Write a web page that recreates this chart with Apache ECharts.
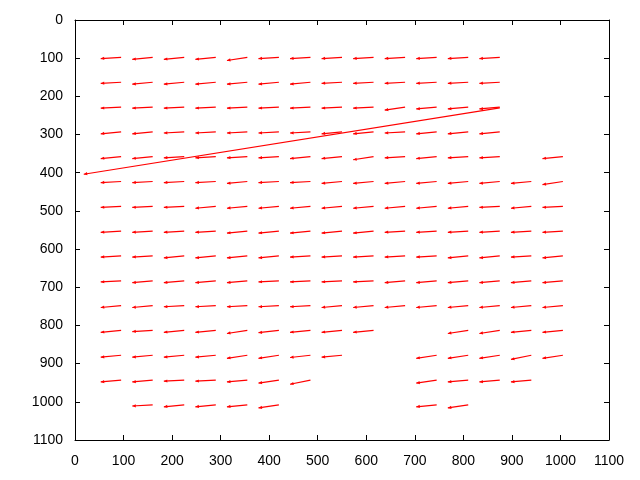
<!DOCTYPE html>
<html>
<head>
<meta charset="utf-8">
<script src="https://cdn.jsdelivr.net/npm/echarts@6/dist/echarts.min.js"></script>
<style>
html,body{margin:0;padding:0;background:#fff;}
#chart{width:640px;height:480px;}
</style>
</head>
<body>
<div id="chart"></div>
<script>
// Tick labels
const tickValues = [0,100,200,300,400,500,600,700,800,900,1000,1100];

// Start (tail) positions of the vector grid
const colX = [95,160,225,290,355,420,485,550,615,680,745,810,875,940,1005];
const rowY = [98,163,228,293,358,423,488,553,618,683,748,813,878,943,1008];

// Horizontal component of the short vectors
const arrowDx = -42;

// Vertical component of each vector (null = no vector at that grid point)
const dyRow1  = [3,5,5,5,8,3,3,3,3,3,3,3,3,null,null];
const dyRow2  = [3,5,5,5,5,5,5,3,3,3,3,3,3,null,null];
const dyRow3  = [3,3,3,3,3,3,3,3,3,8,5,5,5,null,null];
const dyRow4  = [5,5,3,3,3,3,3,5,5,3,5,5,5,null,null];
const dyRow5  = [5,5,3,3,3,3,5,5,8,3,5,3,3,null,5];
const dyRow6  = [3,3,3,3,5,3,3,5,5,5,5,5,5,5,8];
const dyRow7  = [3,3,3,5,5,5,5,5,5,5,5,5,3,5,3];
const dyRow8  = [3,3,3,3,5,5,5,5,5,3,3,3,3,3,3];
const dyRow9  = [3,3,5,5,5,5,3,3,3,3,3,5,5,3,5];
const dyRow10 = [3,5,5,5,5,3,3,3,3,5,5,5,5,5,5];
const dyRow11 = [5,5,3,3,3,3,3,5,5,5,5,5,5,5,5];
const dyRow12 = [5,3,5,5,8,6,5,5,5,null,null,8,8,5,5];
const dyRow13 = [5,5,5,5,8,8,6,5,null,null,8,8,8,11,8];
const dyRow14 = [5,5,3,3,5,8,11,null,null,null,8,5,5,5,null];
const dyRow15 = [null,3,5,5,5,8,null,null,null,null,5,8,null,null,null];
const dyRows = [dyRow1,dyRow2,dyRow3,dyRow4,dyRow5,dyRow6,dyRow7,dyRow8,dyRow9,dyRow10,dyRow11,dyRow12,dyRow13,dyRow14,dyRow15];

// The one long outlier vector: [x, y, dx, dy]
const longVector = [875, 230, -857, 174];

const vectors = [];
for (let r = 0; r < rowY.length; r++) {
  for (let c = 0; c < colX.length; c++) {
    const dy = dyRows[r][c];
    if (dy !== null) vectors.push([colX[c], rowY[r], arrowDx, dy]);
  }
}
vectors.push(longVector);

const chart = echarts.init(document.getElementById('chart'), null, {renderer:'canvas'});
const labelFont = {color:'#000', fontSize:14, fontFamily:'Liberation Sans, Arial, sans-serif'};
function makeAxis(pos, isY, showLabel){
  return {
    type:'value', min:0, max:1100, interval:100, position:pos,
    inverse: isY,
    axisLine:{show:true, onZero:false, lineStyle:{color:'#000', width:1}},
    axisTick:{show:true, inside:true, length:5, lineStyle:{color:'#000', width:1}},
    axisLabel: Object.assign({show:showLabel, margin: isY ? 12 : 14,
      formatter:function(v){ return tickValues.indexOf(v) >= 0 ? String(v) : ''; }}, labelFont),
    splitLine:{show:false}
  };
}
chart.setOption({
  animation:false,
  backgroundColor:'#fff',
  grid:{left:75, right:31, top:20, bottom:40, containLabel:false},
  xAxis:[makeAxis('bottom', false, true), makeAxis('top', false, false)],
  yAxis:[makeAxis('left', true, true), makeAxis('right', true, false)],
  series:[{
    type:'custom',
    xAxisIndex:0, yAxisIndex:0,
    data: vectors,
    encode:{x:0, y:1},
    renderItem:function(params, api){
      const x0 = api.value(0), y0 = api.value(1), dx = api.value(2), dy = api.value(3);
      const p0 = api.coord([x0, y0]);
      const p1 = api.coord([x0 + dx, y0 + dy]);
      const ang = Math.atan2(p1[1]-p0[1], p1[0]-p0[0]);
      const L = 3.5, W = 1.6;
      const bx = p1[0] - L*Math.cos(ang), by = p1[1] - L*Math.sin(ang);
      const nx = -Math.sin(ang), ny = Math.cos(ang);
      return {type:'group', children:[
        {type:'line', shape:{x1:p0[0], y1:p0[1], x2:p1[0], y2:p1[1]}, style:{stroke:'#ff0000', lineWidth:1.2}},
        {type:'polygon', shape:{points:[[p1[0],p1[1]],[bx+nx*W,by+ny*W],[bx-nx*W,by-ny*W]]}, style:{fill:'#ff0000'}}
      ]};
    }
  }]
});
</script>
</body>
</html>
